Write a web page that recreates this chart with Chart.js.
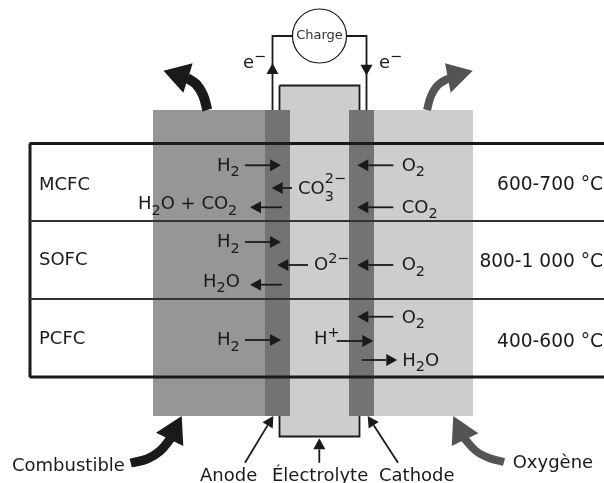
<!DOCTYPE html>
<html>
<head>
<meta charset="utf-8">
<title>Piles à combustible</title>
<script src="https://cdn.jsdelivr.net/npm/chart.js@4"></script>
<style>
  html, body { margin: 0; padding: 0; background: #fff; }
  canvas { display: block; }
</style>
</head>
<body>
<canvas id="cell" width="604" height="483"></canvas>
<script>
// table rows
const cellTypes = ["MCFC", "SOFC", "PCFC"];
const temperatures = ["600-700 °C", "800-1 000 °C", "400-600 °C"];
const rowEdges = [143.5, 221, 299, 377];

// species: _ is subscript, ^ is superscript
const anodeSpecies = ["H_2", "H_2O + CO_2", "H_2", "H_2O", "H_2"];
const ionSpecies = ["CO_3^2−", "O^2−", "H^+"];
const cathodeSpecies = ["O_2", "CO_2", "O_2", "O_2", "H_2O"];
const partNames = ["Combustible", "Anode", "Électrolyte", "Cathode", "Oxygène"];

// cell blocks as [x0, x1, y0, y1], axis units
const anodeBlock = [153, 265, 110, 416];
const anodeLayer = [265, 290, 110, 416];
const cathodeLayer = [349, 374, 110, 416];
const cathodeBlock = [374, 473, 110, 416];
const electrolyte = [279.5, 359.5, 85.5, 436.5];

// thin arrows as [x0, y0, tipX, tipY]
const thinArrows = [
  [245, 165.3, 281, 165.3], [292, 188, 271.7, 188], [282, 207.3, 250, 207.3],
  [393.3, 165.3, 357.3, 165.3], [393.3, 207.3, 357.3, 207.3],
  [245, 242, 281, 242], [308, 265, 277.3, 265], [282, 284.7, 250, 284.7],
  [393.3, 265, 357.3, 265],
  [245, 340, 281, 340], [393.3, 316.7, 357.3, 316.7],
  [336.7, 341, 373.3, 341], [361.7, 360, 397.3, 360],
  [245, 462.7, 273.3, 416], [398, 462.7, 367.7, 416], [319.3, 462.7, 319.3, 438.3],
];

// wide curved arrows
const exhaustLeft = [[207.3, 110], [203, 95], [196, 84], [187, 78]];
const exhaustRight = [[427, 110], [431, 96], [438, 85], [449, 78]];
const fuelIn = [[130.7, 463], [147, 459], [160, 451], [171, 438]];
const oxygenIn = [[504, 462], [489, 458], [476, 451], [464, 438]];
const exhaustLeftHead = [[163.5, 70.7], [192.7, 63.3], [183.3, 92.7]];
const exhaustRightHead = [[472.7, 70.7], [445, 63.3], [450.7, 92.7]];
const fuelHead = [[181.7, 416], [156, 432.7], [183.3, 446]];
const oxygenHead = [[453.3, 416], [478.3, 433.3], [451.7, 446]];

// external circuit
const wireLeft = [[272.5, 110], [272.5, 36], [293, 36]];
const wireRight = [[366.5, 110], [366.5, 36], [346, 36]];
const wireArrows = [[272.5, 74, 272.5, 63.3], [366.5, 65, 366.5, 75.5]];
const loadCentre = [319.5, 36];

const INK = "#1a1a1a";
const GREY = "#545454";

function toPoints(list) {
  return list.map((p) => ({ x: p[0], y: p[1] }));
}

function rectPoints(r) {
  return [[r[0], r[2]], [r[1], r[2]], [r[1], r[3]], [r[0], r[3]], [r[0], r[2]]];
}

function stroke(list, color, width, tension) {
  return {
    data: toPoints(list),
    showLine: true,
    borderColor: color,
    borderWidth: width,
    pointRadius: 0,
    tension: tension || 0,
    borderCapStyle: "butt",
    clip: false,
  };
}

function filled(list, color) {
  return {
    data: toPoints(list.concat([list[0]])),
    showLine: true,
    borderWidth: 0,
    borderColor: color,
    backgroundColor: color,
    fill: "shape",
    pointRadius: 0,
    clip: false,
  };
}

// arrow = line + triangle head, head size worked out from direction
function arrow(a, headLen, headHalf, color, width) {
  const dx = a[2] - a[0];
  const dy = a[3] - a[1];
  const len = Math.hypot(dx, dy);
  const ux = dx / len;
  const uy = dy / len;
  const bx = a[2] - ux * headLen;
  const by = a[3] - uy * headLen;
  const head = [
    [a[2], a[3]],
    [bx - uy * headHalf, by + ux * headHalf],
    [bx + uy * headHalf, by - ux * headHalf],
  ];
  return [stroke([[a[0], a[1]], [bx, by]], color, width), filled(head, color)];
}

// back to front
let layers = [
  filled(rectPoints(anodeBlock), "#969696"),
  filled(rectPoints(cathodeBlock), "#cdcdcd"),
  filled(rectPoints(electrolyte), "#cdcdcd"),
  stroke(rectPoints(electrolyte), INK, 1.8),
  filled(rectPoints(anodeLayer), "#737373"),
  filled(rectPoints(cathodeLayer), "#737373"),
  stroke([[29.5, rowEdges[0]], [604, rowEdges[0]]], INK, 3),
  stroke([[29.5, rowEdges[3]], [604, rowEdges[3]]], INK, 3),
  stroke([[30, rowEdges[0]], [30, rowEdges[3]]], INK, 3),
  stroke([[30, rowEdges[1]], [604, rowEdges[1]]], "#333333", 1.8),
  stroke([[30, rowEdges[2]], [604, rowEdges[2]]], "#333333", 1.8),
  stroke(wireLeft, INK, 1.8),
  stroke(wireRight, INK, 1.8),
  {
    data: toPoints([loadCentre]),
    pointRadius: 27,
    pointBackgroundColor: "#fff",
    pointBorderColor: INK,
    pointBorderWidth: 1.2,
    clip: false,
  },
  stroke(exhaustLeft, INK, 10, 0.4),
  filled(exhaustLeftHead, INK),
  stroke(exhaustRight, GREY, 8, 0.4),
  filled(exhaustRightHead, GREY),
  stroke(fuelIn, INK, 9, 0.4),
  filled(fuelHead, INK),
  stroke(oxygenIn, GREY, 8, 0.4),
  filled(oxygenHead, GREY),
];
thinArrows.forEach((a) => {
  layers = layers.concat(arrow(a, 11, 6, INK, 1.8));
});
wireArrows.forEach((a) => {
  layers = layers.concat(arrow(a, 10.7, 6, INK, 1.8));
});

// text as [label, x, baseline, align, size]
const textItems = [
  [cellTypes[0], 39, 190], [cellTypes[1], 39, 264.5], [cellTypes[2], 39, 344],
  [temperatures[0], 603, 190, "right", 18.6], [temperatures[1], 603, 267, "right", 18.6], [temperatures[2], 603, 346.5, "right", 18.6],
  [anodeSpecies[0], 217, 170.5], [anodeSpecies[1], 138, 209], [anodeSpecies[2], 217, 247],
  [anodeSpecies[3], 203, 286.5], [anodeSpecies[4], 217, 345],
  [ionSpecies[0], 298, 194], [ionSpecies[1], 314, 270], [ionSpecies[2], 314, 343.5],
  [cathodeSpecies[0], 401.7, 170.5], [cathodeSpecies[1], 401.7, 212.5], [cathodeSpecies[2], 401.7, 270],
  [cathodeSpecies[3], 401.7, 322.5], [cathodeSpecies[4], 402.3, 365.5],
  [partNames[0], 12, 471], [partNames[1], 200, 480.5], [partNames[2], 272, 480.5],
  [partNames[3], 379, 480.5], [partNames[4], 512.7, 468],
  ["e^−", 243, 68], ["e^−", 379, 68],
];

const FONT = 18;
const SMALL = 14.4;
const family = '"DejaVu Sans", sans-serif';

function splitRuns(label) {
  const runs = [];
  const re = /_(\d)(?:\^(\S+))?|\^(\S+)|([^_^]+)/g;
  let m;
  while ((m = re.exec(label))) {
    if (m[2]) runs.push({ sub: m[1], sup: m[2] });
    else if (m[1]) runs.push({ sub: m[1] });
    else if (m[3]) runs.push({ sup: m[3] });
    else runs.push({ text: m[4] });
  }
  return runs;
}

function runWidth(ctx, run, size) {
  if (run.text) {
    ctx.font = size + "px " + family;
    return ctx.measureText(run.text).width;
  }
  ctx.font = SMALL + "px " + family;
  return Math.max(run.sub ? ctx.measureText(run.sub).width : 0, run.sup ? ctx.measureText(run.sup).width : 0);
}

const labelsPlugin = {
  id: "labels",
  afterDraw(chart) {
    const { ctx, scales } = chart;
    ctx.save();
    ctx.fillStyle = INK;
    ctx.textBaseline = "alphabetic";
    ctx.textAlign = "left";
    textItems.forEach((item) => {
      const size = item[4] || FONT;
      const runs = splitRuns(item[0]);
      let x = scales.x.getPixelForValue(item[1]);
      const y = scales.y.getPixelForValue(item[2]);
      if (item[3] === "right") {
        x -= runs.reduce((w, r) => w + runWidth(ctx, r, size), 0);
      }
      runs.forEach((r) => {
        const w = runWidth(ctx, r, size);
        if (r.text) {
          ctx.font = size + "px " + family;
          ctx.fillText(r.text, x, y);
        } else {
          ctx.font = SMALL + "px " + family;
          if (r.sub) ctx.fillText(r.sub, x, y + (r.sup ? 7 : 5.7));
          if (r.sup) ctx.fillText(r.sup, x, y - (r.sub ? 11 : 7));
        }
        x += w;
      });
    });
    ctx.font = "13px " + family;
    ctx.textAlign = "center";
    ctx.textBaseline = "middle";
    ctx.fillStyle = "#333333";
    ctx.fillText("Charge", scales.x.getPixelForValue(loadCentre[0]), scales.y.getPixelForValue(loadCentre[1]));
    ctx.restore();
  },
};

new Chart(document.getElementById("cell"), {
  type: "scatter",
  data: { datasets: layers.reverse() }, // first dataset is painted last
  options: {
    responsive: false,
    animation: false,
    events: [],
    layout: { padding: 0, autoPadding: false },
    plugins: { legend: { display: false }, tooltip: { enabled: false } },
    scales: {
      x: { type: "linear", min: 0, max: 604, display: false },
      y: { type: "linear", min: 0, max: 483, reverse: true, display: false },
    },
  },
  plugins: [labelsPlugin],
});
</script>
</body>
</html>
